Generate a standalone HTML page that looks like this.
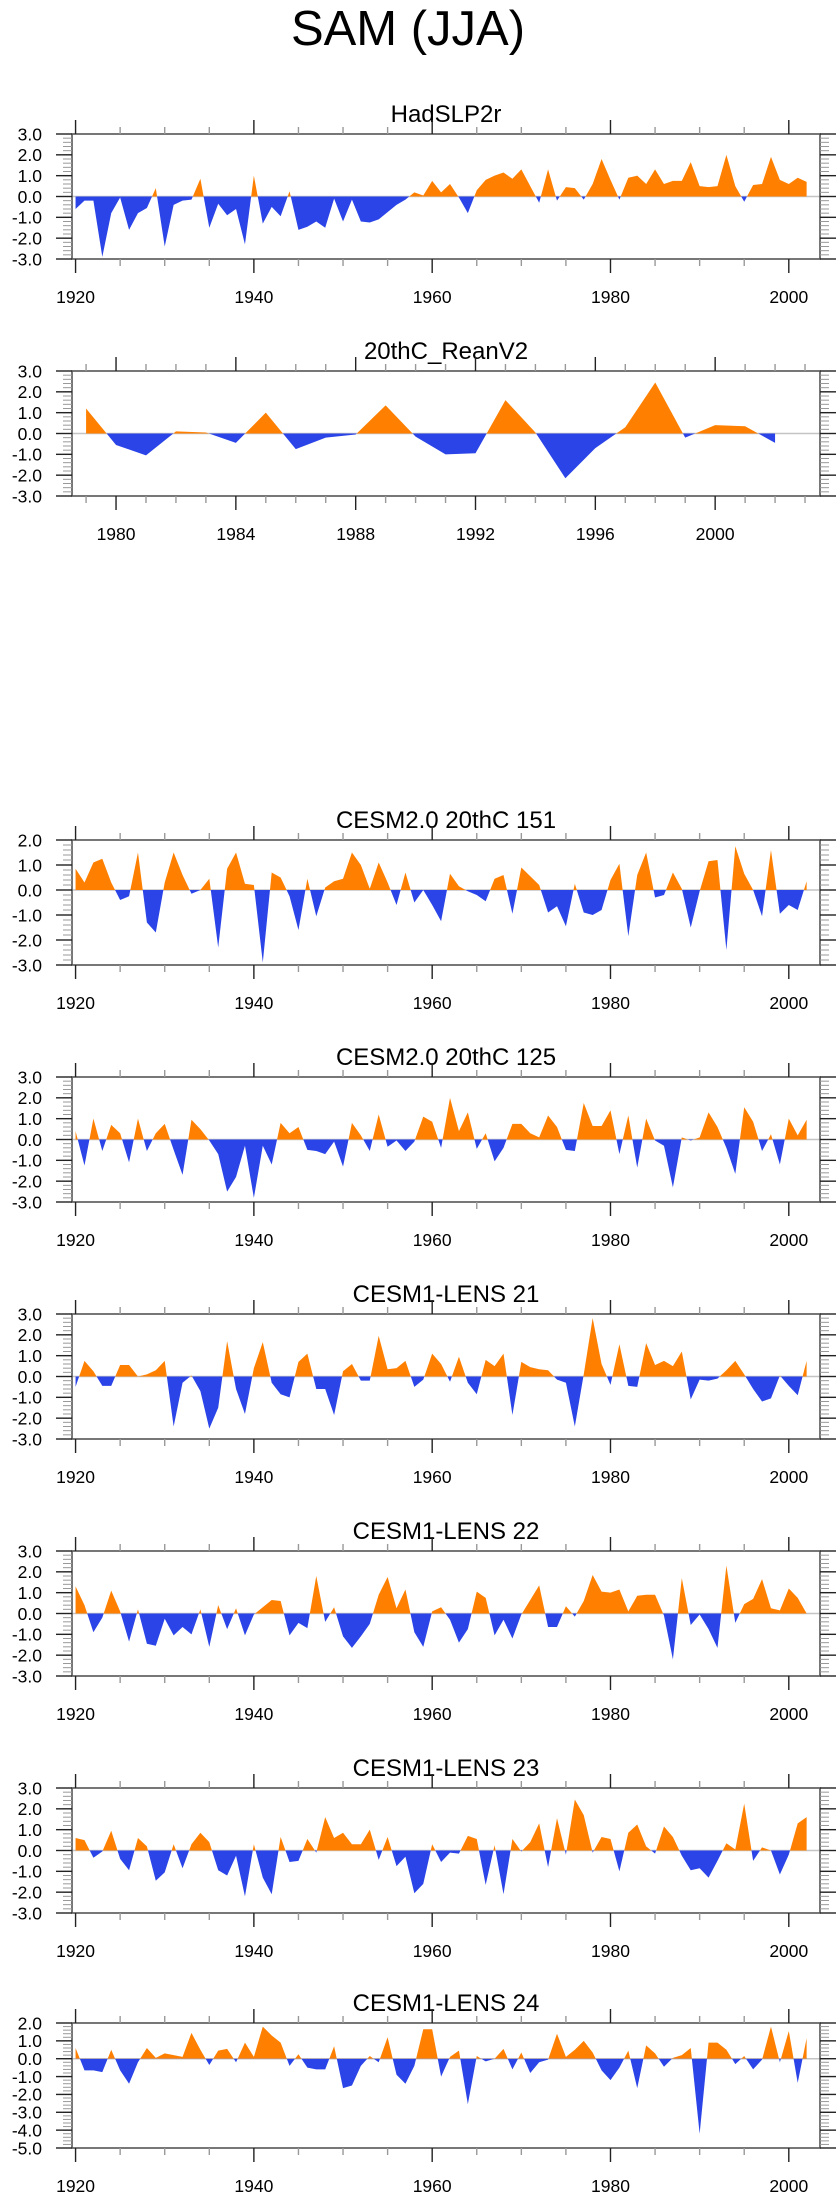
<!DOCTYPE html>
<html><head><meta charset="utf-8">
<style>
html,body{margin:0;padding:0;background:#fff;}
svg{display:block;font-family:"Liberation Sans",Arial,sans-serif;}
</style></head>
<body>
<svg id="chart" width="840" height="2200" viewBox="0 0 840 2200" xmlns="http://www.w3.org/2000/svg">
<text x="408" y="45" text-anchor="middle" font-size="49">SAM (JJA)</text>
</svg>
<script>
const yearsLong = Array.from({length:83},(_,i)=>1920+i);
const yearsShort = Array.from({length:24},(_,i)=>1979+i);
const panelTitles = ["HadSLP2r","20thC_ReanV2","CESM2.0 20thC 151","CESM2.0 20thC 125","CESM1-LENS 21","CESM1-LENS 22","CESM1-LENS 23","CESM1-LENS 24"];
const hadslp = [-0.6,-0.2,-0.2,-2.9,-0.8,-0.05,-1.6,-0.8,-0.55,0.4,-2.4,-0.4,-0.2,-0.15,0.85,-1.5,-0.35,-0.9,-0.6,-2.3,1.0,-1.3,-0.5,-0.95,0.25,-1.6,-1.45,-1.2,-1.5,-0.1,-1.2,-0.15,-1.2,-1.25,-1.1,-0.75,-0.4,-0.15,0.2,0.05,0.75,0.2,0.6,-0.05,-0.8,0.3,0.8,1.0,1.15,0.85,1.3,0.5,-0.3,1.3,-0.2,0.45,0.4,-0.15,0.6,1.8,0.8,-0.15,0.9,1.0,0.6,1.3,0.6,0.75,0.75,1.65,0.5,0.45,0.5,2.0,0.5,-0.25,0.55,0.6,1.9,0.8,0.6,0.9,0.7];
const reanv2 = [1.2,-0.55,-1.05,0.1,0.05,-0.45,1.0,-0.75,-0.2,-0.05,1.35,-0.15,-1.0,-0.95,1.6,0.05,-2.15,-0.7,0.3,2.45,-0.2,0.4,0.35,-0.45];
const cesm2_151 = [0.85,0.3,1.1,1.25,0.3,-0.4,-0.25,1.5,-1.3,-1.7,0.3,1.5,0.6,-0.15,0.0,0.45,-2.3,0.85,1.5,0.25,0.2,-2.9,0.7,0.5,-0.25,-1.6,0.45,-1.05,0.1,0.35,0.45,1.5,1.0,0.05,1.1,0.3,-0.6,0.7,-0.5,0.0,-0.6,-1.25,0.65,0.15,-0.05,-0.2,-0.45,0.45,0.6,-0.95,0.9,0.55,0.2,-0.9,-0.65,-1.45,0.25,-0.9,-1.0,-0.8,0.4,1.05,-1.85,0.6,1.5,-0.3,-0.2,0.7,0.05,-1.5,-0.05,1.15,1.2,-2.4,1.75,0.65,0.0,-1.05,1.6,-0.95,-0.6,-0.8,0.35];
const cesm2_125 = [0.4,-1.25,1.0,-0.55,0.7,0.3,-1.1,1.0,-0.55,0.3,0.75,-0.5,-1.7,0.95,0.5,-0.05,-0.7,-2.5,-1.8,-0.3,-2.8,-0.3,-1.2,0.8,0.3,0.6,-0.5,-0.55,-0.7,-0.1,-1.3,0.8,0.2,-0.55,1.2,-0.35,-0.05,-0.55,-0.1,1.1,0.85,-0.4,2.0,0.4,1.3,-0.45,0.3,-1.05,-0.4,0.75,0.75,0.3,0.1,1.15,0.6,-0.5,-0.55,1.75,0.65,0.65,1.4,-0.7,1.15,-1.35,1.0,-0.05,-0.3,-2.3,0.1,-0.05,0.1,1.3,0.6,-0.4,-1.65,1.55,0.85,-0.55,0.25,-1.2,1.0,0.2,0.95];
const lens21 = [-0.5,0.75,0.25,-0.45,-0.45,0.55,0.55,0.0,0.1,0.3,0.75,-2.4,-0.3,0.05,-0.7,-2.5,-1.5,1.7,-0.6,-1.8,0.4,1.65,-0.3,-0.85,-1.0,0.7,1.1,-0.6,-0.6,-1.85,0.25,0.6,-0.2,-0.2,1.95,0.35,0.4,0.75,-0.5,-0.15,1.1,0.6,-0.25,0.95,-0.3,-0.85,0.8,0.5,1.1,-1.85,0.7,0.45,0.35,0.3,-0.15,-0.3,-2.4,0.1,2.8,0.6,-0.4,1.55,-0.45,-0.5,1.6,0.55,0.75,0.5,1.2,-1.1,-0.15,-0.2,-0.1,0.3,0.75,0.1,-0.6,-1.2,-1.05,0.05,-0.45,-0.9,0.75];
const lens22 = [1.3,0.4,-0.9,-0.2,1.1,0.1,-1.35,0.2,-1.45,-1.55,-0.25,-1.05,-0.65,-1.0,0.2,-1.6,0.4,-0.75,0.25,-1.05,-0.05,0.3,0.65,0.6,-1.05,-0.45,-0.7,1.8,-0.4,0.3,-1.1,-1.65,-1.1,-0.5,0.9,1.75,0.25,1.15,-0.9,-1.6,0.1,0.3,-0.3,-1.4,-0.75,1.05,0.75,-1.05,-0.3,-1.2,-0.05,0.65,1.35,-0.65,-0.65,0.35,-0.15,0.6,1.85,1.05,1.0,1.15,0.1,0.85,0.9,0.9,-0.1,-2.2,1.7,-0.55,-0.05,-0.75,-1.65,2.3,-0.45,0.45,0.7,1.65,0.25,0.15,1.2,0.75,0.0];
const lens23 = [0.6,0.5,-0.35,-0.05,0.95,-0.4,-0.95,0.6,0.2,-1.45,-1.05,0.3,-0.85,0.3,0.85,0.4,-0.95,-1.2,-0.25,-2.2,0.3,-1.3,-2.1,0.65,-0.55,-0.5,0.55,-0.1,1.6,0.6,0.85,0.3,0.3,1.0,-0.45,0.65,-0.75,-0.3,-2.05,-1.6,0.3,-0.55,-0.1,-0.15,0.7,0.55,-1.65,0.25,-2.1,0.55,-0.05,0.4,1.3,-0.8,1.55,-0.2,2.45,1.7,-0.1,0.65,0.55,-1.0,0.85,1.25,0.2,-0.15,1.15,0.65,-0.25,-0.95,-0.85,-1.3,-0.5,0.35,0.05,2.25,-0.5,0.15,0.0,-1.15,-0.2,1.3,1.6];
const lens24 = [0.6,-0.65,-0.65,-0.75,0.5,-0.65,-1.4,-0.2,0.6,0.05,0.3,0.2,0.1,1.45,0.5,-0.35,0.45,0.55,-0.2,0.9,0.1,1.8,1.3,0.9,-0.4,0.25,-0.5,-0.6,-0.6,0.7,-1.65,-1.5,-0.4,0.15,-0.2,1.2,-0.9,-1.4,-0.4,1.65,1.65,-1.0,0.1,0.45,-2.55,0.15,-0.15,0.0,0.55,-0.6,0.35,-0.8,-0.2,-0.05,1.4,0.1,0.5,1.0,0.35,-0.65,-1.2,-0.5,0.45,-1.65,0.75,0.3,-0.45,0.05,0.2,0.6,-4.2,0.9,0.9,0.5,-0.3,0.15,-0.6,-0.05,1.8,-0.2,1.55,-1.35,1.15];
const yTicksStd = [3,2,1,0,-1,-2,-3];
const yTicks151 = [2,1,0,-1,-2,-3];
const yTicks24 = [2,1,0,-1,-2,-3,-4,-5];
const xLabelsLong = [1920,1940,1960,1980,2000];
const xLabelsShort = [1980,1984,1988,1992,1996,2000];

const svg = document.getElementById('chart');
const NS = 'http://www.w3.org/2000/svg';
function mk(tag, attrs, parent){
  const e = document.createElementNS(NS, tag);
  for (const k in attrs) e.setAttribute(k, attrs[k]);
  (parent||svg).appendChild(e);
  return e;
}
const X0 = 72, X1 = 820, H = 125;
const panels = [
  {top:134, years:yearsLong, vals:hadslp, ymax:3, ymin:-3, yt:yTicksStd, xmin:1919.6, xmax:2003.5, labels:xLabelsLong, major:20, minor:5},
  {top:371, years:yearsShort, vals:reanv2, ymax:3, ymin:-3, yt:yTicksStd, xmin:1978.53, xmax:2003.5, labels:xLabelsShort, major:4, minor:1},
  {top:840, years:yearsLong, vals:cesm2_151, ymax:2, ymin:-3, yt:yTicks151, xmin:1919.6, xmax:2003.5, labels:xLabelsLong, major:20, minor:5},
  {top:1077, years:yearsLong, vals:cesm2_125, ymax:3, ymin:-3, yt:yTicksStd, xmin:1919.6, xmax:2003.5, labels:xLabelsLong, major:20, minor:5},
  {top:1314, years:yearsLong, vals:lens21, ymax:3, ymin:-3, yt:yTicksStd, xmin:1919.6, xmax:2003.5, labels:xLabelsLong, major:20, minor:5},
  {top:1551, years:yearsLong, vals:lens22, ymax:3, ymin:-3, yt:yTicksStd, xmin:1919.6, xmax:2003.5, labels:xLabelsLong, major:20, minor:5},
  {top:1788, years:yearsLong, vals:lens23, ymax:3, ymin:-3, yt:yTicksStd, xmin:1919.6, xmax:2003.5, labels:xLabelsLong, major:20, minor:5},
  {top:2023, years:yearsLong, vals:lens24, ymax:2, ymin:-5, yt:yTicks24, xmin:1919.6, xmax:2003.5, labels:xLabelsLong, major:20, minor:5}
];

panels.forEach((p, pi) => {
  const g = mk('g', {});
  
  
  const top = p.top, bot = top + H;
  const xs = yr => X0 + (yr - p.xmin) / (p.xmax - p.xmin) * (X1 - X0);
  const ys = v => top + (p.ymax - v) / (p.ymax - p.ymin) * H;
  const y0 = ys(0);

  const t = mk('text', {x:446, y:top-12, 'text-anchor':'middle', 'font-size':24}, g);
  t.textContent = panelTitles[pi];
  
  

  // zero line
  const zl = mk('line', {x1:X0, x2:X1, y1:y0, y2:y0, stroke:'#c4c4c4', 'stroke-width':1.5}, g);
  
  

  // area fills
  let d = 'M' + xs(p.years[0]) + ',' + y0;
  p.vals.forEach((v, i) => { d += ' L' + xs(p.years[i]).toFixed(2) + ',' + ys(v).toFixed(2); });
  d += ' L' + xs(p.years[p.years.length-1]) + ',' + y0 + ' Z';
  const cpA = 'clipA' + pi, cpB = 'clipB' + pi;
  const defs = mk('defs', {}, g);
  const ca = mk('clipPath', {id:cpA}, defs);
  mk('rect', {x:X0, y:top, width:X1-X0, height:y0-top}, ca);
  const cb = mk('clipPath', {id:cpB}, defs);
  mk('rect', {x:X0, y:y0, width:X1-X0, height:bot-y0}, cb);
  const pos = mk('path', {d:d, fill:'#ff8000', 'clip-path':'url(#'+cpA+')'}, g);
  
  
  const neg = mk('path', {d:d, fill:'#2b44e8', 'clip-path':'url(#'+cpB+')'}, g);
  
  

  // frame
  const fr = mk('rect', {x:X0, y:top, width:X1-X0, height:H, fill:'none', stroke:'#555', 'stroke-width':1.6}, g);
  
  

  // y minor ticks
  for (let v = p.ymin; v <= p.ymax + 1e-6; v += 0.2) {
    const yy = ys(v);
    mk('line', {x1:X0-9, x2:X0, y1:yy, y2:yy, stroke:'#999', 'stroke-width':1}, g);
    mk('line', {x1:X1, x2:X1+9, y1:yy, y2:yy, stroke:'#999', 'stroke-width':1}, g);
  }
  // y major ticks + labels
  p.yt.forEach(v => {
    const yy = ys(v);
    mk('line', {x1:X0-16, x2:X0, y1:yy, y2:yy, stroke:'#222', 'stroke-width':1.4}, g);
    mk('line', {x1:X1, x2:X1+16, y1:yy, y2:yy, stroke:'#222', 'stroke-width':1.4}, g);
    const lt = mk('text', {x:42, y:yy+6.3, 'text-anchor':'end', 'font-size':17.5}, g);
    lt.textContent = v.toFixed(1);
    
    
  });
  // x ticks
  const y1 = Math.ceil(p.xmin), y2 = Math.floor(p.xmax);
  for (let yr = y1; yr <= y2; yr++) {
    if (yr % p.minor !== 0) continue;
    const isMajor = (p.major === 4) ? ((yr - 1980) % 4 === 0) : (yr % p.major === 0);
    const len = isMajor ? 14 : 7;
    const col = isMajor ? '#222' : '#999';
    const xx = xs(yr);
    mk('line', {x1:xx, x2:xx, y1:top-len, y2:top, stroke:col, 'stroke-width':1.4}, g);
    mk('line', {x1:xx, x2:xx, y1:bot, y2:bot+len, stroke:col, 'stroke-width':1.4}, g);
  }
  p.labels.forEach(yr => {
    const xt = mk('text', {x:xs(yr), y:bot+44, 'text-anchor':'middle', 'font-size':17.5}, g);
    xt.textContent = String(yr);
    
    
  });
});
</script>
</body></html>
